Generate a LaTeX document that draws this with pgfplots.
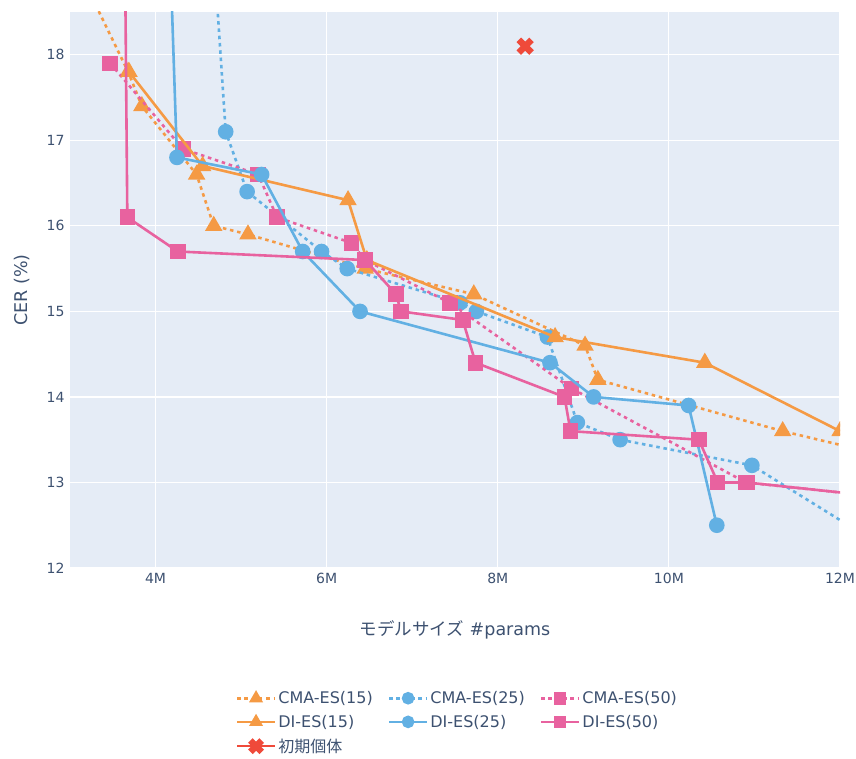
\documentclass[border=0pt]{standalone}
\usepackage{fontspec}
\setmainfont{DejaVu Sans}
\newfontfamily\jp{Noto Sans CJK JP}
\usepackage{pgfplots}
\pgfplotsset{compat=1.18}
\definecolor{corange}{HTML}{F59A44}
\definecolor{cblue}{HTML}{62B0E3}
\definecolor{cpink}{HTML}{E8629F}
\definecolor{cred}{HTML}{EF4A3A}
\definecolor{bgc}{HTML}{E5ECF6}
\definecolor{tc}{HTML}{3D5170}
\begin{document}
\begin{tikzpicture}
\begin{axis}[
 scale only axis, width=770pt, height=556pt,
 xmin=3, xmax=12, ymin=12, ymax=18.5,
 axis background/.style={fill=bgc},
 axis line style={draw=none},
 grid=major, major grid style={white, line width=1.2pt},
 tick style={draw=none},
 xtick={4,6,8,10,12}, xticklabels={4M,6M,8M,10M,12M},
 ytick={12,13,14,15,16,17,18},
 /pgf/number format/assume math mode=true,
 tick label style={font=\fontsize{14}{16}\selectfont, text=tc},
 xticklabel style={yshift=-2pt},
 yticklabel style={xshift=-2pt},
 xlabel={{\jp モデルサイズ} \#params},
 ylabel={CER (\%)},
 label style={font=\fontsize{17.5}{20}\selectfont, text=tc},
 xlabel style={at={(axis description cs:0.5,-0.111)}, anchor=center},
 ylabel style={at={(axis description cs:-0.062,0.5)}, anchor=center},
 clip marker paths=true,
 legend columns=3,
 legend cell align=left,
 legend style={at={(axis description cs:0.215,-0.218)}, anchor=north west, draw=none, fill=none,
   font=\fontsize{16}{19}\selectfont, text=tc, inner sep=0pt, row sep=6pt,
   /tikz/every even column/.append style={column sep=13pt}},
 lim/.style={legend image code/.code={\draw[mark repeat=2,mark phase=2,mark size=#1] plot coordinates {(0pt,0pt) (19pt,0pt) (38pt,0pt)};}},
 every axis plot/.append style={line width=2.6pt},
 dotl/.style={dash pattern=on 3.5pt off 3.8pt},
]
% CMA-ES(15)
\addplot[corange, dotl, mark=triangle*, mark size=7.5pt, mark options={solid}, lim=5.5pt] coordinates {
 (3.0,19.2) (3.68,17.8) (3.84,17.4) (4.48,16.6) (4.68,16.0) (5.08,15.9) (6.45,15.5) (7.72,15.2) (9.02,14.6) (9.17,14.2) (11.33,13.6) (12.5,13.32)};
\addlegendentry{CMA-ES(15)}
% CMA-ES(25)
\addplot[cblue, dotl, mark=*, mark size=6.5pt, mark options={solid}, lim=5pt] coordinates {
 (4.66,19.5) (4.82,17.1) (5.07,16.4) (5.94,15.7) (6.24,15.5) (7.56,15.1) (7.75,15.0) (8.58,14.7) (8.93,13.7) (9.43,13.5) (10.97,13.2) (12.5,12.25)};
\addlegendentry{CMA-ES(25)}
% CMA-ES(50)
\addplot[cpink, dotl, mark=square*, mark size=6.5pt, mark options={solid}, lim=5pt] coordinates {
 (3.47,17.9) (4.32,16.9) (5.2,16.6) (5.42,16.1) (6.29,15.8) (6.45,15.6) (7.44,15.1) (8.86,14.1) (10.9,13.0) (12.5,12.83)};
\addlegendentry{CMA-ES(50)}
% DI-ES(15)
\addplot[corange, mark=triangle*, mark size=7.5pt, lim=5.5pt] coordinates {
 (3.69,17.8) (4.55,16.7) (6.25,16.3) (6.47,15.6) (8.67,14.7) (10.42,14.4) (12.0,13.6)};
\addlegendentry{DI-ES(15)}
% DI-ES(25)
\addplot[cblue, mark=*, mark size=6.5pt, lim=5pt] coordinates {
 (4.16,19.5) (4.25,16.8) (5.24,16.6) (5.72,15.7) (6.39,15.0) (8.61,14.4) (9.12,14.0) (10.23,13.9) (10.56,12.5)};
\addlegendentry{DI-ES(25)}
% DI-ES(50)
\addplot[cpink, mark=square*, mark size=6.5pt, lim=5pt] coordinates {
 (3.64,19.5) (3.67,16.1) (4.26,15.7) (6.45,15.6) (6.81,15.2) (6.87,15.0) (7.59,14.9) (7.74,14.4) (8.78,14.0) (8.85,13.6) (10.35,13.5) (10.57,13.0) (10.91,13.0) (12.5,12.83)};
\addlegendentry{DI-ES(50)}
% initial
\addplot[cred, mark=x, mark size=9pt, mark options={line width=6.5pt}, lim=8pt] coordinates {(8.32,18.1)};
\addlegendentry{{\jp 初期個体}}
\coordinate (bl) at (rel axis cs:0,0);
\coordinate (tr) at (rel axis cs:1,1);
\end{axis}
\pgfresetboundingbox
\path ([shift={(-70pt,-190pt)}]bl) rectangle ([shift={(16pt,12pt)}]tr);
\end{tikzpicture}
\end{document}
